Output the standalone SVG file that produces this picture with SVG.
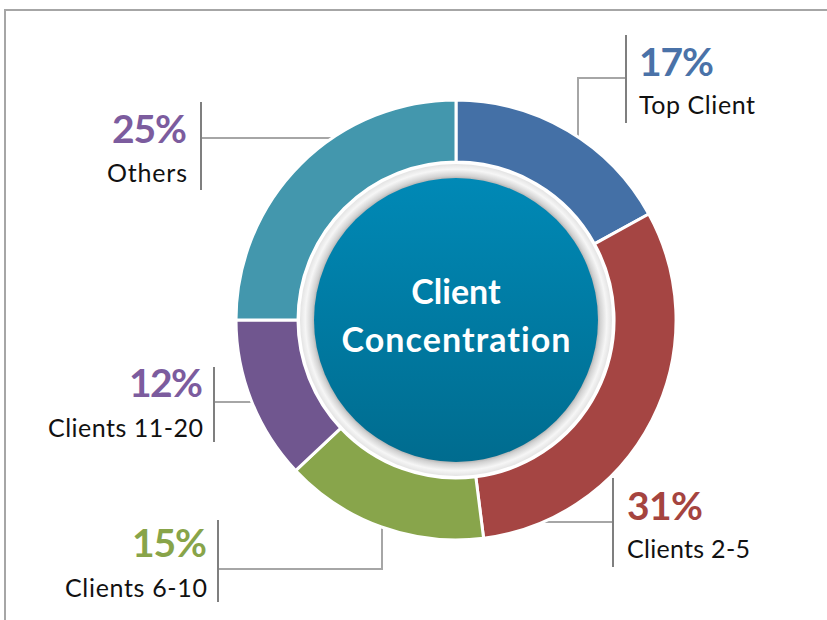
<svg xmlns="http://www.w3.org/2000/svg" width="827" height="620" viewBox="0 0 827 620">
<defs>
<linearGradient id="disk" x1="0" y1="0" x2="0" y2="1">
<stop offset="0" stop-color="#0089B6"/>
<stop offset="1" stop-color="#006C8F"/>
</linearGradient>
<radialGradient id="ring" gradientUnits="userSpaceOnUse" cx="456" cy="320" r="157">
<stop offset="0.88" stop-color="#8e8e8e"/>
<stop offset="0.92" stop-color="#d2d2d2"/>
<stop offset="0.96" stop-color="#f6f6f6"/>
<stop offset="1" stop-color="#e0e0e0"/>
</radialGradient>
<style>
text{font-variant-ligatures:none}
.seg{stroke:#fff;stroke-width:3;stroke-linejoin:round}
.lead{fill:none;stroke:#a6a6a6;stroke-width:2}
.bar{stroke:#7f7f7f;stroke-width:2}
.pct{font-family:Lato,"Open Sans",sans-serif;font-weight:bold;font-size:39px}
.lbl{font-family:Lato,"Open Sans",sans-serif;font-size:25px;fill:#111}
.ctr{font-family:Lato,"Open Sans",sans-serif;font-weight:bold;font-size:34px;fill:#fff;text-anchor:middle}
</style>
</defs>
<rect width="827" height="620" fill="#fff"/>
<path d="M4,10 H827 M5,10 V620" fill="none" stroke="#a6a6a6" stroke-width="2"/>

<g id="connectors">
<polyline class="lead" points="578,137 578,78 626,78"/>
<polyline class="lead" points="331,138 201,138"/>
<polyline class="lead" points="253,402 214,402"/>
<polyline class="lead" points="382,527 382,569 218,569"/>
<polyline class="lead" points="538,522 613,522"/>
<line class="bar" x1="626" y1="35" x2="626" y2="123"/>
<line class="bar" x1="201" y1="102" x2="201" y2="190"/>
<line class="bar" x1="214" y1="367" x2="214" y2="442"/>
<line class="bar" x1="218" y1="520" x2="218" y2="602"/>
<line class="bar" x1="613" y1="478" x2="613" y2="567"/>
</g>

<g id="top-client">
<path class="seg" fill="#4470A6" d="M456,100 A220,220 0 0 1 648.8,214 L594.5,243.9 A158,158 0 0 0 456,162 Z"/>
<text class="pct" x="639" y="76" fill="#4A72A8" textLength="75">17%</text>
<text class="lbl" x="639" y="114" textLength="116">Top Client</text>
</g>
<g id="clients-2-5">
<path class="seg" fill="#A54543" d="M648.8,214 A220,220 0 0 1 483.6,538.3 L475.8,476.8 A158,158 0 0 0 594.5,243.9 Z"/>
<text class="pct" x="627" y="520" fill="#A5443F" textLength="76">31%</text>
<text class="lbl" x="627" y="558" textLength="123">Clients 2-5</text>
</g>
<g id="clients-6-10">
<path class="seg" fill="#88A54B" d="M483.6,538.3 A220,220 0 0 1 295.6,470.6 L340.8,428.2 A158,158 0 0 0 475.8,476.8 Z"/>
<text class="pct" x="207" y="557" fill="#88A449" text-anchor="end" textLength="75">15%</text>
<text class="lbl" x="207" y="597" text-anchor="end" textLength="142">Clients 6-10</text>
</g>
<g id="clients-11-20">
<path class="seg" fill="#70568F" d="M295.6,470.6 A220,220 0 0 1 236,320 L298,320 A158,158 0 0 0 340.8,428.2 Z"/>
<text class="pct" x="203" y="397" fill="#7C5C9E" text-anchor="end" textLength="74">12%</text>
<text class="lbl" x="203" y="437" text-anchor="end" textLength="155">Clients 11-20</text>
</g>
<g id="others">
<path class="seg" fill="#4397AD" d="M236,320 A220,220 0 0 1 456,100 L456,162 A158,158 0 0 0 298,320 Z"/>
<text class="pct" x="187" y="143" fill="#7C5C9E" text-anchor="end" textLength="75">25%</text>
<text class="lbl" x="187" y="182" text-anchor="end" textLength="80">Others</text>
</g>

<g id="center">
<circle cx="456" cy="320" r="156" fill="url(#ring)"/>
<circle cx="456" cy="320" r="142" fill="url(#disk)"/>
<text class="ctr" x="456" y="304">Client</text>
<text class="ctr" x="456" y="352" textLength="229">Concentration</text>
</g>
</svg>
